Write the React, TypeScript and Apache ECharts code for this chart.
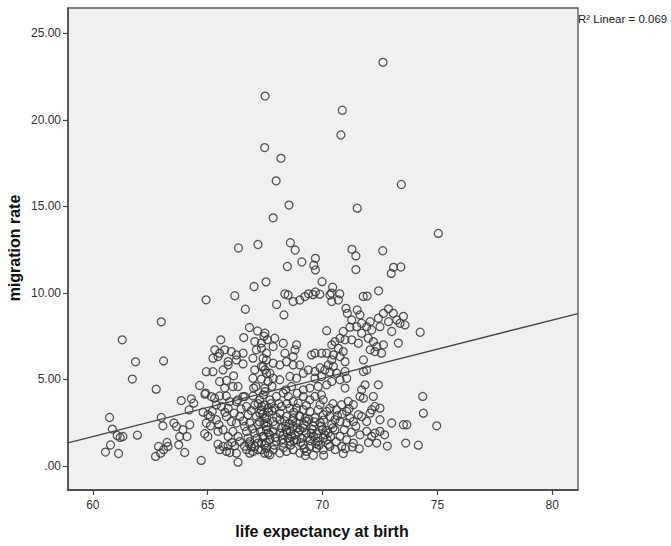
import React, { useEffect, useRef } from "react";
import * as echarts from "echarts";

// ---- data (life expectancy at birth, migration rate) ----
const outliers: number[][] = [
  [72.63, 23.33], [67.5, 21.38], [70.86, 20.56], [70.8, 19.13], [67.48, 18.4], [68.19, 17.78],
  [67.98, 16.48], [73.43, 16.27], [68.54, 15.08], [71.51, 14.9], [67.85, 14.34], [75.04, 13.44],
  [67.19, 12.8], [66.34, 12.6], [68.6, 12.9], [68.81, 12.48], [71.28, 12.52], [72.62, 12.44],
  [71.45, 12.14], [69.69, 12.0], [69.62, 11.6], [69.69, 11.33], [69.1, 11.79], [68.47, 11.53],
  [71.45, 11.35], [73.09, 11.48], [73.41, 11.5], [72.99, 11.13], [67.54, 10.64], [67.02, 10.37],
  [69.98, 10.65],
];

const band9to10: number[][] = [
  [72.44, 10.12], [64.93, 9.6], [66.18, 9.84], [68.36, 9.94], [68.5, 9.88], [69.39, 9.95],
  [69.59, 9.9], [69.69, 10.06], [69.88, 9.93], [70.44, 10.33], [70.39, 9.99], [70.75, 9.95],
  [71.77, 9.8], [71.94, 9.82], [68.72, 9.5], [69.01, 9.59], [69.23, 9.79], [70.32, 9.88],
  [70.4, 9.5], [70.69, 9.59], [71.02, 9.11], [71.51, 9.02], [72.87, 9.08], [68.0, 9.33],
  [66.64, 9.06],
];

const band7to9: number[][] = [
  [68.32, 8.73], [71.08, 8.82], [71.63, 8.73], [71.27, 8.44], [71.7, 8.25], [72.07, 8.34],
  [72.43, 8.54], [72.65, 8.82], [73.08, 8.82], [73.52, 8.65], [73.59, 8.15], [73.23, 8.44],
  [72.87, 8.34], [72.5, 8.05], [72.14, 7.86], [73.01, 7.77], [73.37, 8.25], [74.25, 7.73],
  [70.18, 7.82], [70.9, 7.77], [71.19, 8.02], [71.49, 8.05], [71.7, 7.67], [71.92, 8.05],
  [62.98, 8.33], [66.82, 8.0], [67.17, 7.8], [67.49, 7.67],
];

const band6to7: number[][] = [
  [61.28, 7.29], [65.57, 7.29], [67.05, 7.19], [67.34, 7.1], [67.6, 7.3], [66.57, 7.42],
  [66.97, 6.23], [67.12, 6.71], [67.34, 6.81], [67.56, 6.52], [67.41, 6.23], [65.31, 6.71],
  [65.52, 6.52], [65.74, 6.71], [66.03, 6.61], [66.25, 6.42], [66.54, 6.52], [65.23, 6.23],
  [65.45, 6.32], [65.89, 6.03], [66.25, 6.13], [66.54, 5.9], [61.86, 6.02], [63.08, 6.07],
  [70.76, 7.38], [70.98, 7.29], [70.54, 7.19], [70.4, 7.0], [70.69, 6.8], [70.9, 6.61],
  [71.27, 7.29], [71.56, 7.09], [71.99, 7.38], [72.21, 7.19], [72.36, 6.9], [72.65, 7.0],
  [72.28, 6.61], [72.57, 6.52], [72.07, 6.71], [73.3, 7.1], [71.78, 6.13], [70.76, 6.32],
  [70.47, 6.42], [70.18, 6.52], [69.96, 6.52], [69.67, 6.52], [69.52, 6.42], [68.72, 6.32],
  [68.8, 6.71], [68.36, 6.52], [68.29, 7.09], [67.85, 6.9], [67.92, 7.38], [67.45, 7.5],
  [68.87, 7.0], [70.98, 6.03], [70.4, 6.13], [68.43, 6.03], [67.56, 6.13],
];

const band4to6: number[][] = [
  [61.72, 5.02], [62.76, 4.44], [64.65, 4.65], [64.94, 5.45], [65.23, 5.45], [65.67, 5.55],
  [65.89, 5.84], [66.13, 5.21], [65.52, 4.88], [65.82, 4.94], [65.74, 4.5], [66.1, 4.59],
  [66.32, 4.59], [67.05, 5.55], [67.41, 5.74], [67.56, 5.36], [66.97, 5.07], [67.34, 5.02],
  [67.63, 4.88], [67.1, 4.59], [67.49, 4.5], [70.47, 5.75], [70.25, 5.84], [69.89, 5.68],
  [69.01, 5.84], [69.38, 5.55], [69.67, 5.46], [70.1, 5.55], [70.32, 5.42], [70.61, 5.36],
  [70.98, 5.46], [71.05, 5.07], [70.76, 4.98], [70.4, 4.88], [70.98, 4.5], [69.96, 5.17],
  [69.67, 5.07], [69.16, 5.36], [68.87, 5.07], [68.58, 5.17], [68.14, 4.98], [67.85, 5.07],
  [67.71, 5.36], [67.49, 5.55], [67.34, 5.75], [67.85, 5.94], [68.14, 5.84], [68.72, 5.84],
  [71.78, 5.46], [71.92, 5.55], [72.43, 4.69], [71.85, 4.69], [71.7, 4.4], [68.65, 4.59],
  [70.18, 4.69], [69.81, 4.59], [69.45, 4.5], [69.16, 4.4], [67.5, 4.3], [67.0, 4.5],
  [67.8, 4.6], [68.4, 4.4], [68.9, 4.2],
];

const band3to4: number[][] = [
  [64.91, 4.21], [65.16, 4.01], [65.3, 3.92], [65.52, 4.05], [65.81, 4.05], [65.96, 3.72],
  [66.32, 3.82], [66.54, 4.01], [63.85, 3.78], [64.29, 3.88], [64.39, 3.63], [64.88, 4.15],
  [64.19, 3.24], [64.8, 3.11], [65.01, 2.96], [65.2, 3.15], [65.38, 3.53], [65.6, 3.43],
  [65.89, 3.34], [66.25, 3.72], [66.61, 4.01], [66.97, 4.05], [67.27, 3.82], [67.48, 3.53],
  [66.69, 3.44], [67.05, 3.53], [67.34, 3.24], [67.63, 3.34], [66.76, 2.96], [67.12, 2.86],
  [67.48, 2.77], [74.36, 4.02], [74.39, 3.05], [72.14, 3.25], [72.07, 3.05], [72.28, 3.44],
  [72.5, 3.34], [71.78, 3.92], [72.21, 4.02], [71.63, 4.02], [71.12, 3.73], [71.34, 3.54],
  [71.05, 3.15], [71.56, 2.96], [70.83, 3.54], [70.61, 3.25], [70.32, 3.34], [70.18, 3.15],
  [70.03, 3.82], [69.89, 3.54], [69.67, 4.02], [69.45, 3.82], [69.16, 4.02], [68.94, 3.63],
  [68.72, 3.73], [68.51, 4.02], [68.29, 4.21], [67.99, 4.02], [67.71, 3.82], [67.42, 4.11],
  [68.21, 3.44], [67.92, 3.34], [67.27, 3.05], [68.58, 3.34], [68.87, 3.34], [69.16, 3.25],
  [69.45, 3.15], [69.81, 3.25], [70.03, 2.96], [67.2, 3.6], [67.8, 3.2], [68.1, 3.6],
  [66.9, 3.2],
];

const band1to3: number[][] = [
  [60.73, 2.8], [60.85, 2.13], [61.06, 1.76], [61.19, 1.65], [61.31, 1.7], [61.94, 1.78],
  [62.98, 2.8], [63.05, 2.32], [63.53, 2.48], [63.64, 2.28], [63.92, 2.09], [63.78, 1.7],
  [64.1, 1.7], [64.22, 2.38], [64.94, 2.48], [65.12, 2.32], [64.87, 1.86], [65.01, 1.7],
  [65.12, 2.86], [65.38, 2.67], [65.49, 2.38], [65.82, 2.86], [66.03, 2.57], [66.25, 2.48],
  [66.4, 2.86], [66.61, 2.28], [65.67, 2.09], [66.1, 1.99], [66.32, 1.7], [65.89, 1.7],
  [66.83, 2.48], [67.19, 2.38], [67.56, 2.28], [66.69, 1.99], [67.05, 1.9], [67.41, 1.7],
  [67.63, 1.9], [74.97, 2.32], [73.52, 2.38], [73.67, 2.38], [73.01, 2.48], [72.5, 2.67],
  [71.19, 2.77], [71.7, 2.86], [70.32, 2.86], [70.54, 2.67], [70.76, 2.57], [71.05, 2.48],
  [71.34, 2.57], [71.92, 2.57], [69.01, 2.86], [68.72, 2.77], [68.43, 2.86], [68.14, 2.67],
  [67.85, 2.57], [67.56, 2.77], [69.3, 2.57], [69.67, 2.77], [72.14, 1.71], [71.92, 2.0],
  [71.63, 1.8], [71.05, 1.52], [70.76, 1.71], [70.54, 2.09], [70.25, 1.9], [70.03, 1.61],
  [69.6, 1.71], [69.3, 1.9], [69.01, 2.09], [68.72, 2.29], [68.43, 2.09], [68.14, 1.9],
  [67.85, 2.0], [67.56, 2.09], [67.42, 1.71], [67.71, 1.52], [72.5, 2.0], [72.28, 1.9],
  [68.4, 2.3], [68.6, 2.0], [68.8, 1.8], [68.9, 2.2], [69.1, 1.6], [69.2, 2.4], [69.5, 1.9],
  [69.6, 2.3], [69.8, 1.6], [70.0, 2.1], [70.2, 1.5], [68.5, 1.6], [68.7, 2.6], [69.0, 2.9],
  [69.4, 2.7], [69.9, 2.5], [70.4, 2.4], [68.3, 1.8], [70.1, 1.8], [67.4, 3.0], [67.6, 2.5],
  [68.0, 2.8], [68.2, 2.2], [67.3, 2.0], [67.7, 1.8],
];

// extra marks in the darkest core of the cloud
const denseCore: number[][] = [
  [68.45, 1.95], [68.65, 1.7], [68.95, 1.95], [69.15, 2.2], [69.35, 1.65], [69.55, 2.1],
  [69.75, 1.85], [69.95, 2.3], [70.15, 2.05], [70.35, 1.7], [68.55, 2.45], [68.85, 2.5],
  [69.25, 2.75], [69.65, 2.55], [70.05, 2.65], [70.45, 2.2], [68.75, 1.45], [69.05, 1.35],
  [69.45, 1.45], [69.85, 1.2], [70.25, 1.25], [67.25, 2.55], [67.45, 2.45], [67.65, 3.1],
  [67.95, 2.35], [68.15, 3.05], [67.35, 3.45], [67.75, 3.6], [68.35, 2.6], [67.15, 1.6],
  [67.55, 1.35], [67.95, 1.65], [68.25, 1.55], [66.95, 2.15], [66.75, 1.6], [66.55, 2.6],
  [66.45, 3.3], [66.15, 3.05], [65.75, 3.1], [65.45, 2.0], [66.05, 1.35], [66.6, 1.15],
  [70.65, 2.9], [70.95, 2.1], [71.25, 1.95], [71.45, 2.3], [70.85, 3.0], [71.15, 3.3],
  [70.45, 3.6], [69.95, 4.1], [69.3, 3.5], [68.75, 3.1], [68.45, 3.6], [71.3, 1.1],
  [70.55, 0.95], [69.25, 0.6], [68.3, 1.05], [66.9, 1.1], [72.0, 1.35], [72.7, 1.8],
];

const bandBelow1: number[][] = [
  [60.77, 1.21], [60.55, 0.8], [61.12, 0.72], [62.86, 1.13], [62.95, 0.74], [63.08, 0.94],
  [63.23, 1.36], [63.27, 1.13], [62.73, 0.55], [64.0, 0.78], [63.74, 1.22], [64.72, 0.32],
  [65.45, 1.26], [65.67, 1.13], [65.89, 1.17], [65.52, 0.94], [65.82, 0.84], [66.18, 1.17],
  [65.96, 0.78], [66.25, 0.74], [66.32, 0.22], [66.8, 1.28], [66.83, 0.74], [67.05, 1.13],
  [67.19, 0.94], [67.48, 0.74], [66.4, 1.41], [66.83, 1.41], [67.19, 1.32], [67.48, 1.22],
  [66.69, 0.94], [66.97, 0.84], [67.34, 0.94], [67.63, 0.74], [73.62, 1.32], [74.17, 1.2],
  [72.82, 1.15], [72.36, 1.32], [71.34, 1.32], [70.83, 1.13], [70.9, 0.72], [69.81, 1.42],
  [69.16, 1.23], [69.45, 1.13], [69.74, 1.03], [70.03, 0.94], [70.32, 1.13], [67.56, 1.03],
  [67.85, 0.94], [68.14, 0.75], [68.43, 0.84], [68.72, 0.94], [69.01, 0.75], [69.3, 0.84],
  [69.6, 0.62], [70.05, 0.62], [67.71, 0.65], [67.34, 1.32], [67.99, 1.42], [68.29, 1.32],
  [68.58, 1.42], [68.87, 1.52], [68.6, 1.2], [69.2, 1.0], [69.7, 1.3], [70.6, 1.4], [67.9, 1.2],
  [71.6, 1.0], [71.0, 1.0],
];

const fitLine: number[][] = [[58.92, 1.34], [81.12, 8.81]];
const xTicks = [60, 65, 70, 75, 80];
const yTicks = [0, 5, 10, 15, 20, 25];
const yTickLabels = [".00", "5.00", "10.00", "15.00", "20.00", "25.00"];
const r2Label = "R² Linear = 0.069";
const xTitle = "life expectancy at birth";
const yTitle = "migration rate";

const FONT = '"Liberation Sans", Arial, sans-serif';

export default function App() {
  const ref = useRef<HTMLDivElement>(null);
  useEffect(() => {
    if (!ref.current) return;
    const chart = echarts.init(ref.current, null, { renderer: "svg" });
    const points = [
      ...outliers, ...band9to10, ...band7to9, ...band6to7, ...band4to6,
      ...band3to4, ...band1to3, ...denseCore, ...bandBelow1,
    ];
    chart.setOption({
      animation: false,
      backgroundColor: "#ffffff",
      grid: {
        left: 68, top: 8, right: 93, bottom: 56,
        show: true, backgroundColor: "#f0f0f0", borderColor: "#555", borderWidth: 1.3,
      },
      xAxis: {
        type: "value", min: 58.92, max: 81.12,
        axisLine: { show: true, onZero: false, lineStyle: { color: "#444", width: 1.5 } },
        axisTick: { show: true, customValues: xTicks, length: 5, lineStyle: { color: "#444", width: 1.2 } },
        axisLabel: { customValues: xTicks, color: "#333", fontSize: 12, fontFamily: FONT, margin: 9 },
        splitLine: { show: false },
      },
      yAxis: {
        type: "value", min: -1.39, max: 26.47,
        axisLine: { show: true, onZero: false, lineStyle: { color: "#444", width: 1.5 } },
        axisTick: { show: true, customValues: yTicks, length: 5, lineStyle: { color: "#444", width: 1.2 } },
        axisLabel: {
          customValues: yTicks, color: "#333", fontSize: 12, fontFamily: FONT, margin: 7,
          formatter: (v: number) => {
            const i = yTicks.indexOf(Math.round(v));
            return i >= 0 ? yTickLabels[i] : "";
          },
        },
        splitLine: { show: false },
      },
      series: [
        {
          type: "scatter",
          data: points,
          symbol: "circle",
          symbolSize: 8,
          itemStyle: { color: "rgba(0,0,0,0)", borderColor: "#363636", borderWidth: 1.25, opacity: 0.85 },
          silent: true,
        },
        {
          type: "line",
          data: fitLine,
          symbol: "none",
          lineStyle: { color: "#444", width: 1.3 },
          silent: true,
          z: 3,
        },
      ],
      graphic: [
        {
          type: "text", left: 578, top: 13,
          style: { text: r2Label, fontSize: 11.5, fontFamily: FONT, fill: "#222" },
        },
        {
          type: "text", x: 322, y: 531,
          style: { text: xTitle, align: "center", verticalAlign: "middle", font: `bold 16px ${FONT}`, fill: "#111" },
        },
        {
          type: "text", x: 14, y: 248, rotation: Math.PI / 2,
          style: { text: yTitle, align: "center", verticalAlign: "middle", font: `bold 16px ${FONT}`, fill: "#111" },
        },
      ],
    });
    return () => chart.dispose();
  }, []);
  return (
    <div style={{ position: "absolute", left: 0, top: 0, width: 671, height: 546, background: "#fff" }}>
      <div ref={ref} style={{ width: 671, height: 546 }} />
    </div>
  );
}
